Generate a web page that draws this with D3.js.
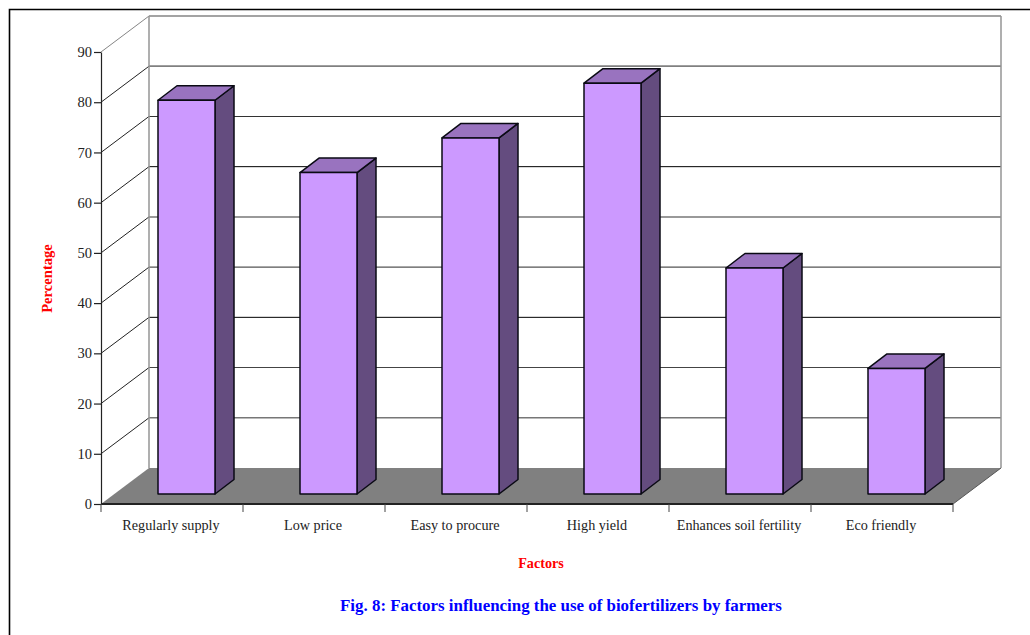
<!DOCTYPE html>
<html>
<head>
<meta charset="utf-8">
<script src="https://cdn.jsdelivr.net/npm/d3@7"></script>
<style>
html, body { margin: 0; padding: 0; background: #fff; }
svg { display: block; }
text { font-family: "Liberation Serif", serif; }
</style>
</head>
<body>
<div id="chart"></div>
<script>
// Survey results: share of farmers citing each factor
const categories = ["Regularly supply", "Low price", "Easy to procure", "High yield", "Enhances soil fertility", "Eco friendly"];
const percentages = [78.4, 64, 70.9, 81.8, 45, 25];
const yTicks = [0, 10, 20, 30, 40, 50, 60, 70, 80, 90];

const chartTitle = "Fig. 8: Factors influencing the use of biofertilizers by farmers";
const xTitle = "Factors";
const yTitle = "Percentage";

const width = 1030, height = 635;
const svg = d3.select("#chart").append("svg").attr("width", width).attr("height", height);

// Page frame, open on the right and bottom
svg.append("path").attr("d", "M9.5,635V9.5H1030").attr("fill", "none").attr("stroke", "#000").attr("stroke-width", 1.6);

const x = d3.scaleBand().domain(categories).range([101, 953]);
const y = d3.scaleLinear().domain([0, 90]).range([504, 52]);

// Oblique projection offsets
const wallDx = 48, wallDy = -36;     // front plane to back wall
const barDx = 13, barDy = -10;       // front plane to the bars' front face
const depthDx = 19, depthDy = -14.5; // depth of each bar
const barW = 57;
const barInset = 44;                 // left gap from the shifted band start to the bar

// Floor
svg.append("path")
  .attr("d", d3.line()([
    [x.range()[0], y(0)],
    [x.range()[0] + wallDx, y(0) + wallDy],
    [x.range()[1] + wallDx, y(0) + wallDy],
    [x.range()[1], y(0)]
  ]) + "Z")
  .attr("fill", "#808080");

// Gridline shade and weight vary with the printed line
const gridStyle = v => ({
  90: ["#858585", 1.5], 80: ["#808080", 1.7], 70: ["#333", 1.1], 60: ["#000", 1],
  50: ["#777", 1.5], 40: ["#555", 1.1], 30: ["#000", 1], 20: ["#444", 1.1], 10: ["#777", 1.5]
})[v];

// Back wall gridlines and side wall diagonals
const grid = svg.append("g");
yTicks.filter(v => v > 0).forEach(v => {
  const [color, weight] = gridStyle(v);
  grid.append("line")
    .attr("x1", x.range()[0] + wallDx).attr("x2", x.range()[1] + wallDx)
    .attr("y1", y(v) + wallDy).attr("y2", y(v) + wallDy)
    .attr("stroke", color).attr("stroke-width", weight);
  grid.append("line")
    .attr("x1", x.range()[0]).attr("x2", x.range()[0] + wallDx)
    .attr("y1", y(v)).attr("y2", y(v) + wallDy)
    .attr("stroke", v === 90 ? "#858585" : "#222").attr("stroke-width", 1);
});
// Wall verticals
[x.range()[0] + wallDx, x.range()[1] + wallDx].forEach(px => {
  grid.append("line")
    .attr("x1", px).attr("x2", px)
    .attr("y1", y(90) + wallDy).attr("y2", y(0) + wallDy)
    .attr("stroke", "#959595").attr("stroke-width", 1.5);
});
// Diagonal at the floor's right edge
grid.append("line")
  .attr("x1", x.range()[1]).attr("x2", x.range()[1] + wallDx)
  .attr("y1", y(0)).attr("y2", y(0) + wallDy)
  .attr("stroke", "#555").attr("stroke-width", 1);

// Bars
const bars = svg.append("g").selectAll("g").data(categories).join("g");
const baseY = y(0) + barDy;
const topY = i => baseY - (y(0) - y(percentages[i]));
const left = c => x(c) + barDx + barInset;

function styled(sel) {
  return sel.attr("stroke", "#0a0a14").attr("stroke-width", 1.5).attr("stroke-linejoin", "round");
}
// Side face
styled(bars.append("path")
  .attr("fill", "#644c7f")
  .attr("d", (c, i) => d3.line()([
    [left(c) + barW, topY(i)],
    [left(c) + barW + depthDx, topY(i) + depthDy],
    [left(c) + barW + depthDx, baseY + depthDy],
    [left(c) + barW, baseY]
  ]) + "Z"));
// Top face
styled(bars.append("path")
  .attr("fill", "#9973bf")
  .attr("d", (c, i) => d3.line()([
    [left(c), topY(i)],
    [left(c) + depthDx, topY(i) + depthDy],
    [left(c) + barW + depthDx, topY(i) + depthDy],
    [left(c) + barW, topY(i)]
  ]) + "Z"));
// Front face
styled(bars.append("rect")
  .attr("fill", "#cc99ff")
  .attr("x", c => left(c))
  .attr("y", (c, i) => topY(i))
  .attr("width", barW)
  .attr("height", (c, i) => baseY - topY(i)));

// Value axis
const yAxis = svg.append("g").attr("transform", `translate(${x.range()[0]},0)`)
  .call(d3.axisLeft(y).tickValues(yTicks).tickSize(7).tickPadding(2).tickSizeOuter(0));
yAxis.select(".domain").attr("stroke", "#222").attr("stroke-width", 1.2);
yAxis.selectAll(".tick line").attr("stroke", "#222").attr("stroke-width", 1.2);
yAxis.selectAll("text").attr("font-size", 14.5).attr("font-family", "Liberation Serif").attr("fill", "#222");

// Category axis: ticks sit on the band edges
const xAxisG = svg.append("g");
xAxisG.append("line")
  .attr("x1", x.range()[0]).attr("x2", x.range()[1])
  .attr("y1", y(0)).attr("y2", y(0))
  .attr("stroke", "#222").attr("stroke-width", 1.8);
const edges = categories.map(c => x(c)).concat([x.range()[1]]);
xAxisG.selectAll(".edge").data(edges).join("line").attr("class", "edge")
  .attr("x1", d => d).attr("x2", d => d)
  .attr("y1", y(0)).attr("y2", y(0) + 8)
  .attr("stroke", "#444").attr("stroke-width", 1);
xAxisG.selectAll("text").data(categories).join("text")
  .attr("x", c => x(c) + x.bandwidth() / 2 - 1)
  .attr("y", 530)
  .attr("text-anchor", "middle")
  .attr("font-size", 14.2)
  .attr("fill", "#222")
  .text(c => c);

// Axis titles and caption
svg.append("text").attr("x", 541).attr("y", 568).attr("text-anchor", "middle")
  .attr("font-size", 14.2).attr("font-weight", "bold").attr("fill", "#ff0000").text(xTitle);
svg.append("text").attr("transform", "translate(52,278.5) rotate(-90)").attr("text-anchor", "middle")
  .attr("font-size", 14.6).attr("font-weight", "bold").attr("fill", "#ff0000").text(yTitle);
svg.append("text").attr("x", 561).attr("y", 611).attr("text-anchor", "middle")
  .attr("font-size", 16.9).attr("font-weight", "bold").attr("fill", "#0000ff").text(chartTitle);
</script>
</body>
</html>
